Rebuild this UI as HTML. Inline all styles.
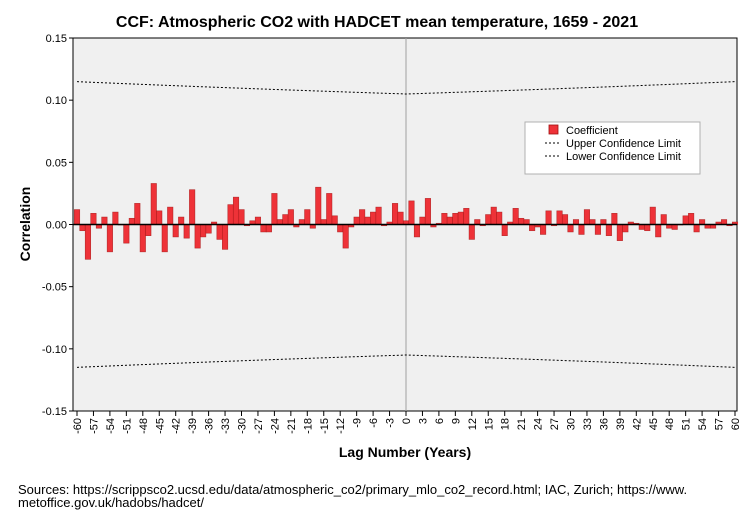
<!DOCTYPE html>
<html><head><meta charset="utf-8"><style>
body{margin:0;background:#fff;}
svg text{font-family:"Liberation Sans",Arial,sans-serif;}
</style></head><body>
<svg id="chart" width="754" height="524" xmlns="http://www.w3.org/2000/svg">
<rect x="0" y="0" width="754" height="524" fill="#fff"/>
<text x="377" y="27" text-anchor="middle" font-size="16" font-weight="bold" fill="#000">CCF: Atmospheric CO2 with HADCET mean temperature, 1659 - 2021</text>
<rect x="73" y="38" width="664" height="373" fill="#f0f0f0" stroke="#000" stroke-width="1"/>
<g id="grid"></g>
<g id="bars"></g>
<g id="conf"></g>
<g id="yaxis"></g>
<g id="xaxis"></g>
<text transform="translate(30,224) rotate(-90)" text-anchor="middle" font-size="14" font-weight="bold">Correlation</text>
<text x="405" y="457" text-anchor="middle" font-size="14" font-weight="bold">Lag Number (Years)</text>
<g>
<rect x="525" y="122" width="175" height="52" fill="#fff" stroke="#b0b0b0"/>
<rect x="549" y="125" width="9" height="9" fill="#ee3238" stroke="#a01010" stroke-width="0.8"/>
<text x="566" y="134" font-size="11">Coefficient</text>
<line x1="545" y1="143" x2="561" y2="143" stroke="#000" stroke-dasharray="2,2"/>
<text x="566" y="147" font-size="11">Upper Confidence Limit</text>
<line x1="545" y1="156" x2="561" y2="156" stroke="#000" stroke-dasharray="2,2"/>
<text x="566" y="160" font-size="11">Lower Confidence Limit</text>
</g>
<text font-size="13" fill="#000"><tspan x="18" y="494">Sources: https://scrippsco2.ucsd.edu/data/atmospheric_co2/primary_mlo_co2_record.html; IAC, Zurich; https://www.</tspan><tspan x="18" y="507">metoffice.gov.uk/hadobs/hadcet/</tspan></text>
</svg>
<script>
const lags=[];for(let l=-60;l<=60;l++)lags.push(l);
const coefficients=[0.012,-0.005,-0.028,0.009,-0.003,0.006,-0.022,0.010,0.0,-0.015,
0.005,0.017,-0.022,-0.009,0.033,0.011,-0.022,0.014,-0.010,0.006,
-0.011,0.028,-0.019,-0.010,-0.007,0.002,-0.012,-0.020,0.016,0.022,
0.012,-0.001,0.003,0.006,-0.006,-0.006,0.025,0.004,0.008,0.012,
-0.002,0.004,0.012,-0.003,0.030,0.004,0.025,0.007,-0.006,-0.019,
-0.002,0.006,0.012,0.006,0.010,0.014,-0.001,0.002,0.017,0.010,
0.003,
0.019,-0.010,0.006,0.021,-0.002,0.001,0.009,0.006,0.009,0.010,
0.013,-0.012,0.004,-0.001,0.008,0.014,0.010,-0.009,0.002,0.013,
0.005,0.004,-0.005,-0.002,-0.008,0.011,-0.001,0.011,0.008,-0.006,
0.004,-0.008,0.012,0.004,-0.008,0.004,-0.009,0.009,-0.013,-0.006,
0.002,0.001,-0.004,-0.005,0.014,-0.010,0.008,-0.003,-0.004,0.000,
0.007,0.009,-0.006,0.004,-0.003,-0.003,0.002,0.004,-0.001,0.002];
const seriesLength=363;
const yTicks=[0.15,0.10,0.05,0.00,-0.05,-0.10,-0.15];
const yTickLabels=["0.15","0.10","0.05","0.00","-0.05","-0.10","-0.15"];
const xTickStep=3;

const NS="http://www.w3.org/2000/svg";
const X0=77,X1=735,YT=38,YB=411;
function xs(l){return X0+(l+60)*(X1-X0)/120;}
function ys(v){return YT+(0.15-v)*(YB-YT)/0.3;}
function mk(tag,attrs,parent){const e=document.createElementNS(NS,tag);for(const k in attrs)e.setAttribute(k,attrs[k]);parent.appendChild(e);return e;}
const g=id=>document.getElementById(id);

const vl=mk('line',{x1:xs(0),x2:xs(0),y1:YT,y2:YB,stroke:'#a0a0a0','stroke-width':1},g('grid'));



const bw=(X1-X0)/120;
coefficients.forEach((v,i)=>{
  const l=lags[i];const y0=ys(0),y1=ys(v);
  const r=mk('rect',{x:xs(l)-bw/2,y:Math.min(y0,y1),width:bw,height:Math.max(Math.abs(y1-y0),0.5),fill:'#ee3238',stroke:'#a81818','stroke-width':0.6,'stroke-opacity':0.8},g('bars'));
  
  
});
const zl=mk('line',{x1:73,x2:737,y1:ys(0),y2:ys(0),stroke:'#000','stroke-width':1.5},g('bars'));



let up='',lo='';
lags.forEach((l,i)=>{const c=2/Math.sqrt(seriesLength-Math.abs(l));up+=(i?'L':'M')+xs(l)+','+ys(c);lo+=(i?'L':'M')+xs(l)+','+ys(-c);});
const pu=mk('path',{d:up,fill:'none',stroke:'#000','stroke-dasharray':'2,2','stroke-width':1},g('conf'));


const pl=mk('path',{d:lo,fill:'none',stroke:'#000','stroke-dasharray':'2,2','stroke-width':1},g('conf'));



yTicks.forEach((v,i)=>{
  mk('line',{x1:69,x2:73,y1:ys(v),y2:ys(v),stroke:'#000'},g('yaxis'));
  const t=mk('text',{x:67,y:ys(v)+4,'text-anchor':'end','font-size':11},g('yaxis'));
  t.textContent=yTickLabels[i];
  
  
});
lags.filter(l=>l%xTickStep===0).forEach(l=>{
  mk('line',{x1:xs(l),x2:xs(l),y1:411,y2:416,stroke:'#000'},g('xaxis'));
  const t=mk('text',{transform:`translate(${xs(l)+4},418) rotate(-90)`,'text-anchor':'end','font-size':11},g('xaxis'));
  t.textContent=String(l);
  
  
});
</script>
</body></html>
